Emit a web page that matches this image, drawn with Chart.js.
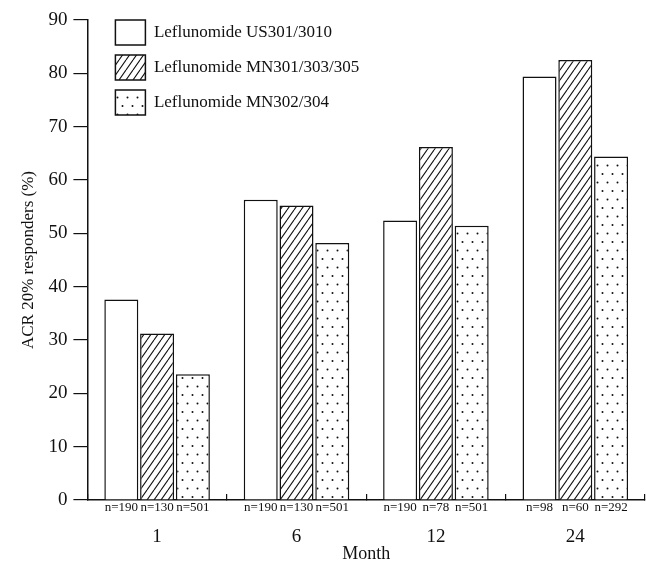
<!DOCTYPE html>
<html>
<head>
<meta charset="utf-8">
<script src="https://cdn.jsdelivr.net/npm/chart.js@4/dist/chart.umd.min.js"></script>
<style>
  html, body { margin: 0; padding: 0; background: #fff; }
  #wrap { width: 646px; height: 563px; position: relative; }
</style>
</head>
<body>
<div id="wrap"><canvas id="acrChart"></canvas></div>
<script>
// Month categories and ACR 20% responder rates (%)
const months = ['1', '6', '12', '24'];
const seriesNames = ['Leflunomide US301/3010', 'Leflunomide MN301/303/305', 'Leflunomide MN302/304'];
const us301 = [37.6, 56.3, 52.4, 79.4];
const mn301 = [31.2, 55.2, 66.2, 82.5];
const mn302 = [23.6, 48.2, 51.4, 64.4];
// patient counts shown under each bar
const nUS301 = [190, 190, 190, 98];
const nMN301 = [130, 130, 78, 60];
const nMN302 = [501, 501, 501, 292];
const yTicks = [0, 10, 20, 30, 40, 50, 60, 70, 80, 90];

const serif = "'Liberation Serif', 'DejaVu Serif', serif";
const ink = '#111';

// hatch pattern (diagonal lines)
function makeHatch() {
    const c = document.createElement('canvas');
    const w = 7, h = 10;
    c.width = w; c.height = h;
    const g = c.getContext('2d');
    g.fillStyle = '#fff';
    g.fillRect(0, 0, w, h);
    g.strokeStyle = ink;
    g.lineWidth = 1.1;
    g.beginPath();
    g.moveTo(0, h); g.lineTo(w, 0);
    g.moveTo(-w, h); g.lineTo(0, 0);
    g.moveTo(w, h); g.lineTo(2 * w, 0);
    g.stroke();
    return g.createPattern(c, 'repeat');
}

// dot pattern (staggered dots)
function makeDots() {
    const c = document.createElement('canvas');
    const w = 10, h = 17;
    c.width = w; c.height = h;
    const g = c.getContext('2d');
    g.fillStyle = '#fff';
    g.fillRect(0, 0, w, h);
    g.fillStyle = ink;
    g.beginPath();
    g.arc(2.5, 4, 1, 0, Math.PI * 2);
    g.arc(7.5, 12.5, 1, 0, Math.PI * 2);
    g.fill();
    return g.createPattern(c, 'repeat');
}

// draws the n= labels under each bar
const nLabelPlugin = {
    id: 'nLabels',
    afterDraw(chart) {
        const counts = [nUS301, nMN301, nMN302];
        const ctx = chart.ctx;
        const bottom = chart.scales.x.top;
        ctx.save();
        ctx.font = '13px ' + serif;
        ctx.fillStyle = ink;
        ctx.textAlign = 'center';
        ctx.textBaseline = 'middle';
        counts.forEach((arr, i) => {
            chart.getDatasetMeta(i).data.forEach((bar, j) => {
                ctx.fillText('n=' + arr[j], bar.x, bottom + 8);
            });
        });
        ctx.restore();
    }
};

// nudge the in-chart legend to where it sits in the figure
const legendShift = {
    id: 'legendShift',
    afterLayout(chart) {
        chart.legend.left += 18;
        chart.legend.top += 10;
    }
};

const ctx = document.getElementById('acrChart').getContext('2d');
const acrChart = new Chart(ctx, {
    type: 'bar',
    data: {
        labels: months,
        datasets: [
            { label: seriesNames[0], data: us301, backgroundColor: '#fff' },
            { label: seriesNames[1], data: mn301, backgroundColor: makeHatch() },
            { label: seriesNames[2], data: mn302, backgroundColor: makeDots() }
        ].map(d => Object.assign(d, {
            borderColor: ink,
            borderWidth: 1.5,
            categoryPercentage: 0.77,
            barPercentage: 0.95
        }))
    },
    options: {
        responsive: true,
        maintainAspectRatio: false,
        animation: false,
        layout: { padding: { top: 20, right: 1, bottom: 0, left: 18 } },
        plugins: {
            tooltip: { enabled: false },
            legend: {
                position: 'chartArea',
                align: 'start',
                labels: {
                    boxWidth: 30,
                    boxHeight: 25,
                    padding: 10,
                    color: ink,
                    font: { family: serif, size: 17 }
                }
            }
        },
        scales: {
            x: {
                afterFit(scale) {
                    scale.height = 63;
                },
                grid: {
                    offset: true,
                    drawOnChartArea: false,
                    tickLength: -6,
                    color: ink,
                    lineWidth: 1.2
                },
                border: { color: ink, width: 1.5 },
                ticks: {
                    padding: 34,
                    color: ink,
                    font: { family: serif, size: 19, lineHeight: 1 }
                },
                title: {
                    display: true,
                    text: 'Month',
                    color: ink,
                    padding: { top: 0, bottom: 0 },
                    font: { family: serif, size: 18, lineHeight: 1 }
                }
            },
            y: {
                min: 0,
                max: 90,
                afterBuildTicks(axis) {
                    axis.ticks = yTicks.map(v => ({ value: v }));
                },
                grid: {
                    drawOnChartArea: false,
                    tickLength: 14,
                    color: ink,
                    lineWidth: 1.2
                },
                border: { color: ink, width: 1.5 },
                ticks: {
                    padding: 6,
                    color: ink,
                    font: { family: serif, size: 19 }
                },
                title: {
                    display: true,
                    text: 'ACR 20% responders (%)',
                    color: ink,
                    padding: { top: 0, bottom: 4 },
                    font: { family: serif, size: 17 }
                }
            }
        }
    },
    plugins: [nLabelPlugin, legendShift]
});
</script>
</body>
</html>
